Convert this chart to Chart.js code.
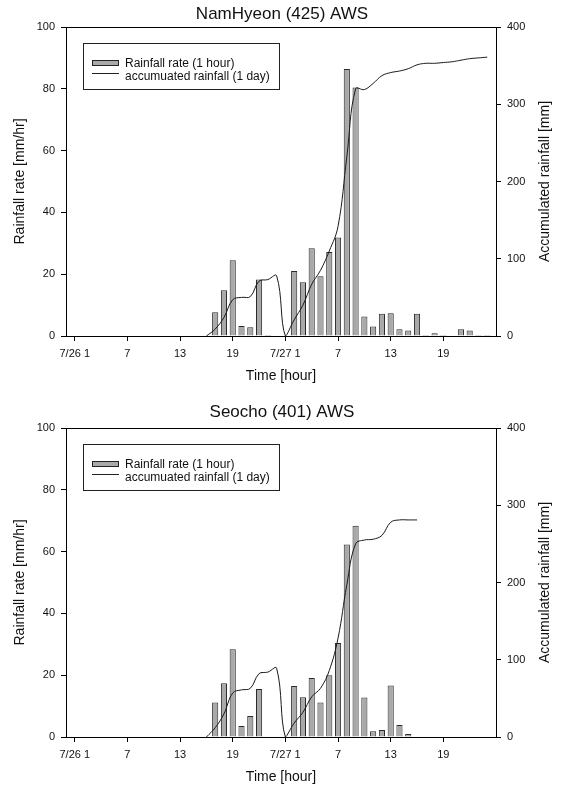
<!DOCTYPE html>
<html>
<head>
<meta charset="utf-8">
<script src="https://cdn.jsdelivr.net/npm/chart.js@4.4.0/dist/chart.umd.min.js"></script>
<style>
html,body{margin:0;padding:0;background:#fff;}
.box{position:absolute;left:0;width:564px;}
</style>
</head>
<body>
<div class="box" style="top:0;height:401px"><canvas id="c1" width="564" height="401"></canvas></div>
<div class="box" style="top:401px;height:387px"><canvas id="c2" width="564" height="387"></canvas></div>
<script>
// hours counted from 7/26 00:00
const hours = [0,1,2,3,4,5,6,7,8,9,10,11,12,13,14,15,16,17,18,19,20,21,22,23,24,
  25,26,27,28,29,30,31,32,33,34,35,36,37,38,39,40,41,42,43,44,45,46,47,48];
const tickHours = [1,7,13,19,25,31,37,43];
const tickLabels = ['7/26 1','7','13','19','7/27 1','7','13','19'];

// NamHyeon (425)
const namRate = [null,null,null,null,null,null,null,null,null,null,null,null,null,null,null,null,
  null,7.7,14.8,24.5,3.2,2.8,18.3,0.3,null,
  null,21,17.4,28.4,19.3,27.2,31.9,86.4,80.4,6.3,3.1,7.2,7.4,2.2,1.8,7.2,0.3,0.9,0.3,null,2.2,1.8,0.3,0.3];
const namAccum = [null,null,null,null,null,null,null,null,null,null,null,null,null,null,null,null,
  0,9,24,47,50,51,71,73,78,
  0,21,40,67,85,110,142,232,320,319,327,337,341,343,346,351,353,353,354,355,357,359,360,361];

// Seocho (401)
const seoRate = [null,null,null,null,null,null,null,null,null,null,null,null,null,null,null,null,
  null,11.2,17.4,28.4,3.6,6.8,15.5,null,null,
  null,16.5,12.9,19.1,11.2,20,30.4,62.3,68.4,12.8,1.9,2.3,16.7,3.9,1.0,null,null,null,null,null,null,null,null,null];
const seoAccum = [null,null,null,null,null,null,null,null,null,null,null,null,null,null,null,null,
  0,12,30,57,61,63,82,84,89,
  0,18,32,52,63,86,128,197,250,255,256,261,278,281,281,281,null,null,null,null,null,null,null,null];

Chart.defaults.font.family = '"Liberation Sans", Arial, sans-serif';
Chart.defaults.color = '#111';

const framePlugin = {
  id: 'frame',
  afterDraw(chart){
    const {ctx, chartArea: a} = chart;
    ctx.save();
    ctx.strokeStyle = '#000';
    ctx.lineWidth = 1;
    // top edge of the box
    const ty = Math.round(a.top - 0.5) + 0.5;
    ctx.beginPath(); ctx.moveTo(a.left, ty); ctx.lineTo(a.right + 1, ty); ctx.stroke();

    // legend
    ctx.strokeStyle = '#222';
    ctx.strokeRect(83.5, 43.5, 196, 46);
    ctx.fillStyle = '#a9a9a9';
    ctx.fillRect(92, 60, 27, 6);
    ctx.strokeRect(92.5, 60.5, 26, 5);
    ctx.beginPath(); ctx.moveTo(92, 73.5); ctx.lineTo(119, 73.5); ctx.stroke();
    ctx.fillStyle = '#111';
    ctx.font = '12px "Liberation Sans", Arial, sans-serif';
    ctx.textBaseline = 'middle';
    ctx.textAlign = 'left';
    ctx.fillText('Rainfall rate (1 hour)', 125, 64);
    ctx.fillText('accumuated rainfall (1 day)', 125, 76.5);

    // right axis title, reading bottom to top
    ctx.translate(545, (a.top + a.bottom) / 2);
    ctx.rotate(-Math.PI / 2);
    ctx.font = '14px "Liberation Sans", Arial, sans-serif';
    ctx.textAlign = 'center';
    ctx.fillText('Accumulated rainfall [mm]', 0, 0);
    ctx.restore();
  }
};

function makeChart(id, title, rate, accum, xAxisHeight, xTitlePad, titlePad){
  return new Chart(document.getElementById(id), {
    type: 'bar',
    data: {
      labels: hours,
      datasets: [
        {type:'line', data: accum, yAxisID:'y2', borderColor:'#1a1a1a', borderWidth:1,
         pointRadius:0, tension:0.4, order:0},
        {type:'bar', data: rate, yAxisID:'y', backgroundColor:'#a9a9a9', borderColor:'#2a2a2a',
         borderWidth:1, barPercentage:0.7, categoryPercentage:1, order:1}
      ]
    },
    options: {
      responsive:false, animation:false,
      layout:{padding:0},
      plugins:{
        legend:{display:false}, tooltip:{enabled:false},
        title:{display:true, text:title, font:{size:17, weight:'normal'}, color:'#111', padding:titlePad}
      },
      scales:{
        x:{type:'linear', min:0, max:49, offset:false,
          afterBuildTicks: s => { s.ticks = tickHours.map(v => ({value:v})); },
          ticks:{callback:(v,i) => tickLabels[i], autoSkip:false, maxRotation:0, padding:6, font:{size:11}},
          grid:{drawOnChartArea:false, offset:false, tickLength:5, color:'#000'},
          border:{color:'#000'},
          title:{display:true, text:'Time [hour]', font:{size:14}, padding:{top:0, bottom:xTitlePad}},
          afterFit: s => { s.height = xAxisHeight; }
        },
        y:{position:'left', min:0, max:100,
          ticks:{stepSize:20, padding:6, font:{size:11}},
          grid:{drawOnChartArea:false, tickLength:5, color:'#000'},
          border:{color:'#000'},
          title:{display:true, text:'Rainfall rate [mm/hr]', font:{size:14}, padding:{top:12, bottom:0}},
          afterFit: s => { s.width = 66; }
        },
        y2:{position:'right', min:0, max:400,
          ticks:{stepSize:100, padding:6, font:{size:11}},
          grid:{drawOnChartArea:false, tickLength:5, color:'#000'},
          border:{color:'#000'},
          afterFit: s => { s.width = 68; }
        }
      }
    },
    plugins:[framePlugin]
  });
}

makeChart('c1', 'NamHyeon (425) AWS', namRate, namAccum, 65, 16.6, {top:4, bottom:2.6});
makeChart('c2', 'Seocho (401) AWS', seoRate, seoAccum, 51, 2.6, {top:1, bottom:5.6});
</script>
</body>
</html>
